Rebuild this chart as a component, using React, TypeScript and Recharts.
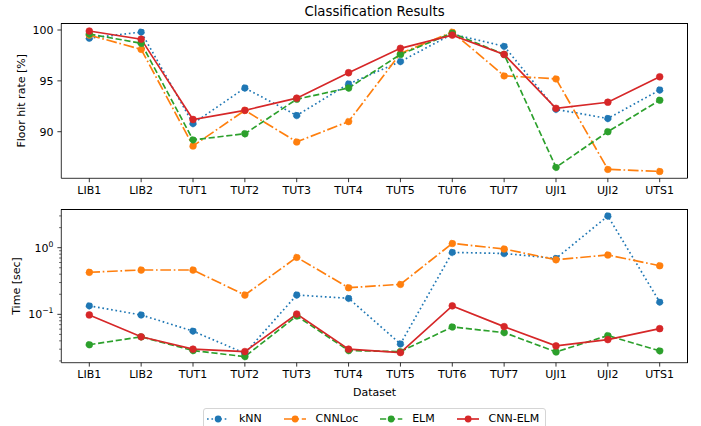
import React from "react";
import { LineChart, Line, XAxis, YAxis } from "recharts";

// categories
const datasets = [
  "LIB1", "LIB2", "TUT1", "TUT2", "TUT3", "TUT4",
  "TUT5", "TUT6", "TUT7", "UJI1", "UJI2", "UTS1",
];

// floor hit rate [%]
const knnHit = [99.2, 99.8, 90.8, 94.3, 91.6, 94.7, 96.9, 99.6, 98.4, 92.2, 91.3, 94.1];
const cnnlocHit = [99.5, 98.1, 88.6, 92.1, 89.0, 91.0, 97.7, 99.8, 95.5, 95.2, 86.3, 86.1];
const elmHit = [99.6, 98.7, 89.2, 89.8, 93.2, 94.3, 97.6, 99.7, 97.6, 86.5, 90.0, 93.1];
const cnnElmHit = [99.9, 99.1, 91.2, 92.1, 93.3, 95.8, 98.2, 99.5, 97.6, 92.3, 92.9, 95.4];

// time [sec]
const knnTime = [0.134, 0.098, 0.056, 0.026, 0.195, 0.174, 0.036, 0.85, 0.82, 0.69, 2.99, 0.153];
const cnnlocTime = [0.428, 0.463, 0.463, 0.195, 0.718, 0.251, 0.282, 1.16, 0.957, 0.66, 0.778, 0.537];
const elmTime = [0.035, 0.046, 0.0286, 0.0232, 0.0946, 0.0286, 0.0276, 0.0647, 0.0532, 0.0273, 0.048, 0.0283];
const cnnElmTime = [0.098, 0.046, 0.03, 0.0276, 0.101, 0.03, 0.0267, 0.134, 0.0654, 0.0336, 0.0418, 0.061];

// ticks
const hitTicks = [90, 95, 100];
const timeMajorTicks = [0.1, 1];
const timeMinorTicks = [
  0.02, 0.03, 0.04, 0.05, 0.06, 0.07, 0.08, 0.09,
  0.2, 0.3, 0.4, 0.5, 0.6, 0.7, 0.8, 0.9, 2, 3,
];

const series = [
  { key: "knn", name: "kNN", color: "#1f77b4", dash: "1.67 2.75" },
  { key: "cnnloc", name: "CNNLoc", color: "#ff7f0e", dash: "10.7 2.7 1.67 2.7" },
  { key: "elm", name: "ELM", color: "#2ca02c", dash: "6.2 2.7" },
  { key: "cnnelm", name: "CNN-ELM", color: "#d62728", dash: undefined },
];

const hitData = datasets.map((name, i) => ({
  name,
  knn: knnHit[i],
  cnnloc: cnnlocHit[i],
  elm: elmHit[i],
  cnnelm: cnnElmHit[i],
}));

const timeData = datasets.map((name, i) => ({
  name,
  knn: knnTime[i],
  cnnloc: cnnlocTime[i],
  elm: elmTime[i],
  cnnelm: cnnElmTime[i],
}));

const axisStyle = { stroke: "#000", strokeWidth: 0.8 };
const tickText = { fill: "#000", fontSize: 11 };

function LogTick(props: any) {
  const { x, y, payload } = props;
  const v = payload.value;
  const axisX = x + 7.8;
  const major = timeMajorTicks.some((t) => Math.abs(t - v) < 1e-9);
  const exp = Math.round(Math.log10(v));
  return (
    <g>
      <line
        x1={axisX - (major ? 3.9 : 2.2)}
        x2={axisX}
        y1={y}
        y2={y}
        stroke="#000"
        strokeWidth={major ? 0.8 : 0.6}
      />
      {major && (
        <text x={x} y={y} dy="0.355em" textAnchor="end" fontSize={11} fill="#000">
          10
          <tspan fontSize={7.7} dy={-5}>
            {exp < 0 ? `\u2212${-exp}` : `${exp}`}
          </tspan>
        </text>
      )}
    </g>
  );
}

function renderLines() {
  return series.map((s) => (
    <Line
      key={s.key}
      type="linear"
      dataKey={s.key}
      name={s.name}
      stroke={s.color}
      strokeWidth={1.67}
      strokeDasharray={s.dash}
      dot={{ r: 3.4, fill: s.color, stroke: s.color, strokeWidth: 0.6 }}
      activeDot={false}
      isAnimationActive={false}
    />
  ));
}

// top and right spines, the axes draw the left and bottom ones
function Frame({ top, height }: { top: number; height: number }) {
  return (
    <div
      style={{
        position: "absolute",
        left: 61.3,
        top,
        width: 626.4,
        height,
        boxSizing: "border-box",
        borderTop: "0.8px solid #000",
        borderRight: "0.8px solid #000",
        pointerEvents: "none",
      }}
    />
  );
}

function Legend() {
  return (
    <div
      style={{
        position: "absolute",
        left: 202.7,
        top: 408.3,
        width: 343,
        height: 21,
        boxSizing: "border-box",
        border: "1px solid #d5d5d5",
        borderRadius: 3,
        display: "flex",
        alignItems: "center",
        paddingLeft: 3.4,
        fontSize: 11,
        gap: 22,
      }}
    >
      {series.map((s) => (
        <div key={s.key} style={{ display: "flex", alignItems: "center" }}>
          <svg width={22.3} height={10} style={{ marginRight: 9.5 }}>
            <line
              x1={0}
              x2={22.3}
              y1={5}
              y2={5}
              stroke={s.color}
              strokeWidth={1.67}
              strokeDasharray={s.dash}
            />
            <circle cx={11.15} cy={5} r={3.4} fill={s.color} />
          </svg>
          <span>{s.name}</span>
        </div>
      ))}
    </div>
  );
}

export default function App() {
  return (
    <div
      style={{
        position: "absolute",
        left: 0,
        top: 0,
        width: 701,
        height: 426,
        overflow: "hidden",
        background: "#fff",
        fontFamily: "'DejaVu Sans', sans-serif",
        color: "#000",
      }}
    >
      <div
        style={{
          position: "absolute",
          left: 61.3,
          width: 626.4,
          top: 3,
          textAlign: "center",
          fontSize: 13.3,
          lineHeight: "18px",
        }}
      >
        Classification Results
      </div>

      <div style={{ position: "absolute", left: 0, top: 0 }}>
        <LineChart
          width={701}
          height={200}
          data={hitData}
          margin={{ top: 23.3, right: 13.3, left: 0, bottom: 0 }}
        >
          <XAxis
            dataKey="name"
            type="category"
            height={21.7}
            padding={{ left: 28, right: 28 }}
            interval={0}
            axisLine={axisStyle}
            tickLine={axisStyle}
            tickSize={3.9}
            tickMargin={3.9}
            tick={tickText}
          />
          <YAxis
            type="number"
            domain={[85.42, 100.66]}
            allowDataOverflow
            ticks={hitTicks}
            width={61.3}
            interval={0}
            axisLine={axisStyle}
            tickLine={axisStyle}
            tickSize={3.9}
            tickMargin={3.9}
            tick={tickText}
            label={{
              value: "Floor hit rate [%]",
              angle: -90,
              position: "insideLeft",
              offset: 21.5,
              fill: "#000",
              fontSize: 11,
              style: { textAnchor: "middle" },
            }}
          />
          {renderLines()}
        </LineChart>
      </div>
      <Frame top={23.3} height={155} />

      <div style={{ position: "absolute", left: 0, top: 200 }}>
        <LineChart
          width={701}
          height={200}
          data={timeData}
          margin={{ top: 9.3, right: 13.3, left: 0, bottom: 0 }}
        >
          <XAxis
            dataKey="name"
            type="category"
            height={37.3}
            padding={{ left: 28, right: 28 }}
            interval={0}
            axisLine={axisStyle}
            tickLine={axisStyle}
            tickSize={3.9}
            tickMargin={3.9}
            tick={tickText}
            label={{
              value: "Dataset",
              position: "insideBottom",
              offset: 4.3,
              fill: "#000",
              fontSize: 11,
            }}
          />
          <YAxis
            type="number"
            scale="log"
            domain={[0.0188, 3.77]}
            allowDataOverflow
            ticks={[...timeMinorTicks, ...timeMajorTicks].sort((a, b) => a - b)}
            width={61.3}
            interval={0}
            axisLine={axisStyle}
            tickLine={false}
            tickSize={3.9}
            tickMargin={3.9}
            tick={<LogTick />}
            label={{
              value: "Time [sec]",
              angle: -90,
              position: "insideLeft",
              offset: 16.5,
              fill: "#000",
              fontSize: 11,
              style: { textAnchor: "middle" },
            }}
          />
          {renderLines()}
        </LineChart>
      </div>
      <Frame top={209.3} height={153.4} />

      <Legend />
    </div>
  );
}
